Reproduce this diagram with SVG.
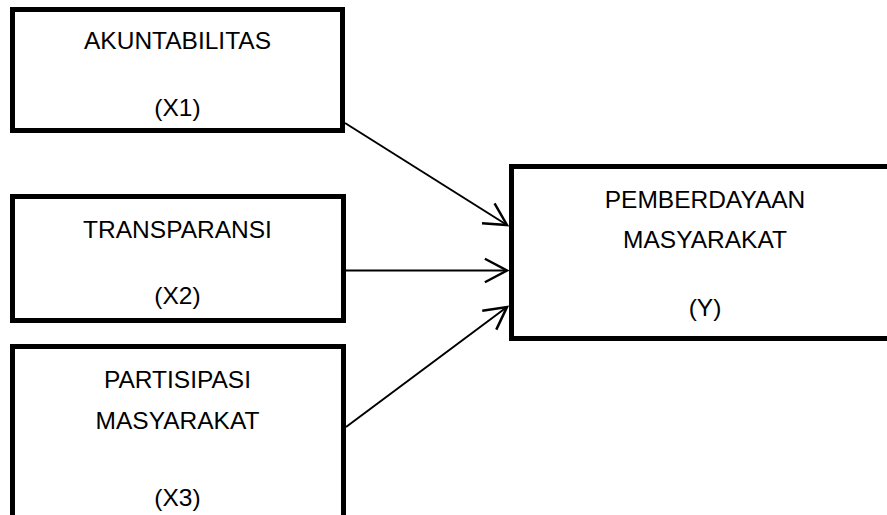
<svg xmlns="http://www.w3.org/2000/svg" width="887" height="515" viewBox="0 0 887 515">
<style>
.box{fill:#fff;stroke:#000;stroke-width:5}
.t{font-family:"Liberation Sans",Arial,sans-serif;font-size:24.5px;fill:#000;text-anchor:middle}
.c{stroke:#000;stroke-width:2;fill:none}
</style>
<defs>
<marker id="arr" markerUnits="userSpaceOnUse" markerWidth="30" markerHeight="30" refX="0" refY="0" viewBox="-20 -12 22 24" orient="auto" overflow="visible">
<path d="M-17.7,-9.4 L0,0 L-17.7,9.4" fill="none" stroke="#000" stroke-width="2" stroke-linejoin="miter"/>
</marker>
</defs>
<rect width="887" height="515" fill="#fff"/>
<g id="x1">
<rect class="box" x="12.5" y="9.5" width="330" height="121"/>
<text class="t" x="177.5" y="48.5">AKUNTABILITAS</text>
<text class="t" x="177.5" y="115.5">(X1)</text>
</g>
<g id="x2">
<rect class="box" x="12.5" y="196.5" width="331" height="124"/>
<text class="t" x="177.5" y="237.5">TRANSPARANSI</text>
<text class="t" x="177.5" y="303.5">(X2)</text>
</g>
<g id="x3">
<rect class="box" x="12.5" y="346.5" width="331" height="200"/>
<text class="t" x="177.5" y="387.5">PARTISIPASI</text>
<text class="t" x="177.5" y="428.5">MASYARAKAT</text>
<text class="t" x="177.5" y="505.5">(X3)</text>
</g>
<g id="y">
<rect class="box" x="511.5" y="166.5" width="400" height="172"/>
<text class="t" x="705" y="207.5">PEMBERDAYAAN</text>
<text class="t" x="705" y="247.5">MASYARAKAT</text>
<text class="t" x="705" y="315.5">(Y)</text>
</g>
<g id="connectors">
<line class="c" x1="345" y1="123" x2="507" y2="225" marker-end="url(#arr)"/>
<line class="c" x1="346" y1="270.5" x2="507" y2="270.5" marker-end="url(#arr)"/>
<line class="c" x1="346" y1="427" x2="507" y2="307" marker-end="url(#arr)"/>
</g>
</svg>
